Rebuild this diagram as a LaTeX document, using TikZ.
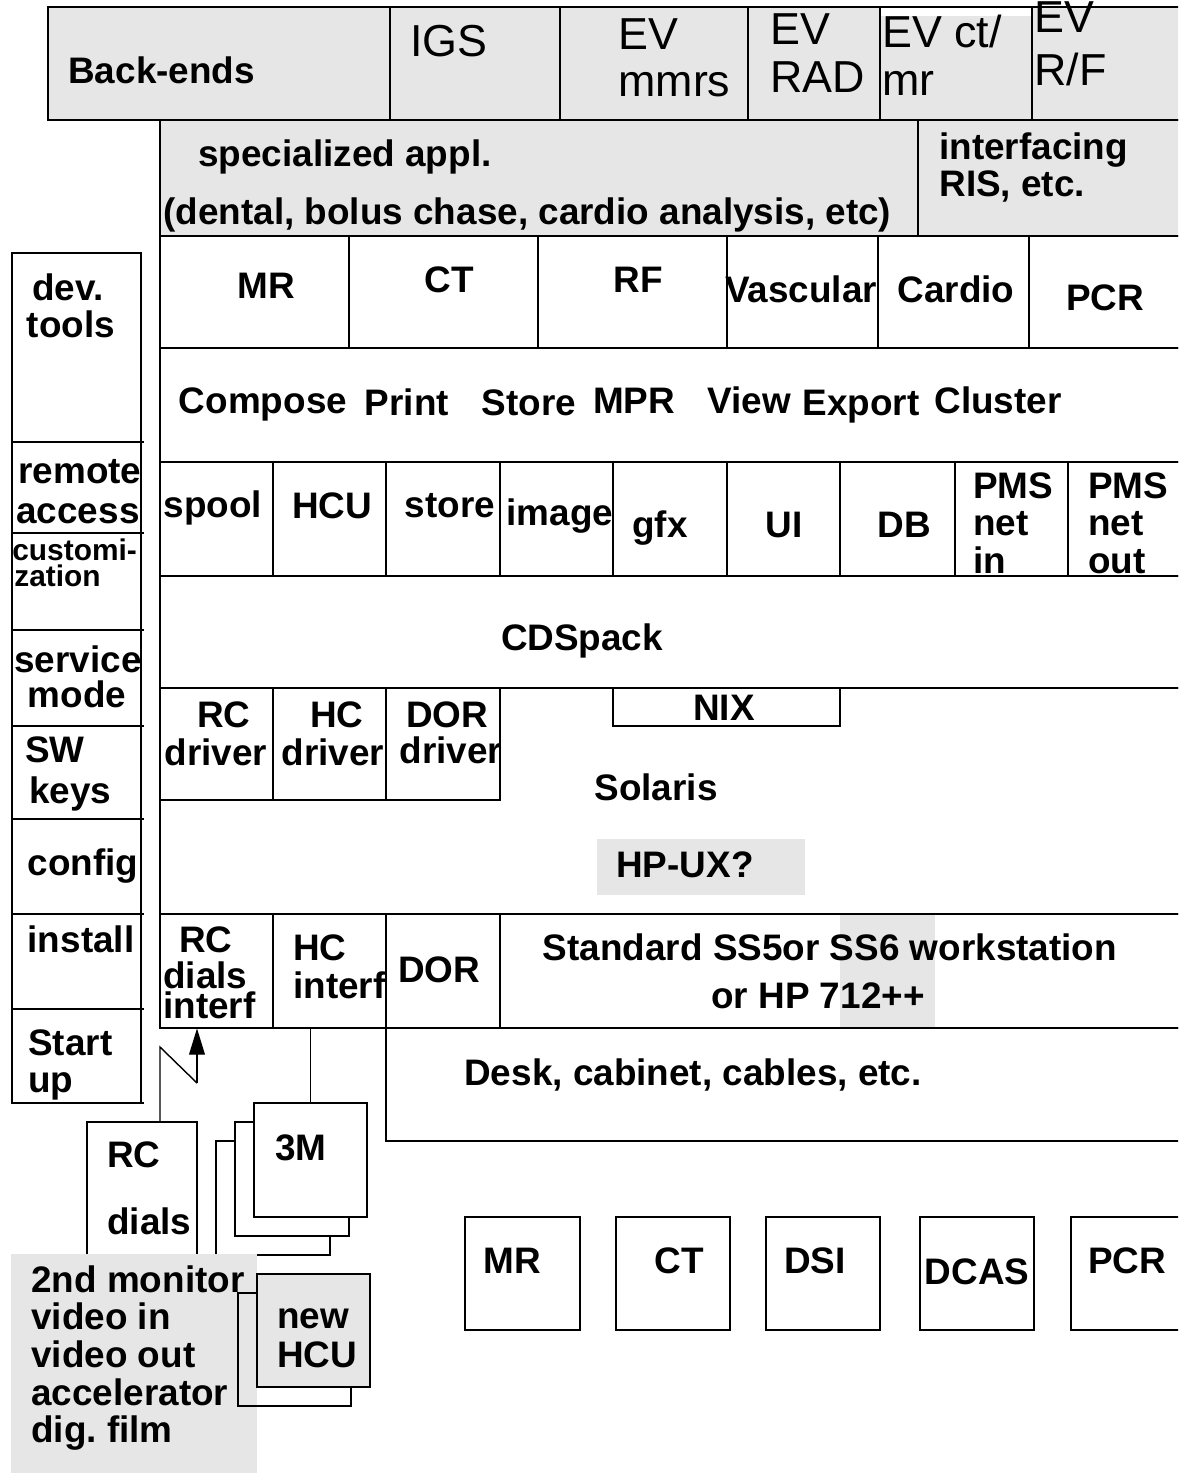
\documentclass[tikz,border=0pt]{standalone}
\usepackage{fontspec}
\setmainfont{Liberation Sans}
\usetikzlibrary{arrows.meta,fit}
\definecolor{panelgray}{RGB}{230,230,230}
\frenchspacing

\begin{document}
\begin{tikzpicture}[x=0.02cm, y=-0.02cm,
  every node/.style={inner sep=0pt},
  lay/.style={draw, line width=1.1pt},
  box/.style={draw, line width=1.1pt, inner sep=0pt},
  link/.style={line width=0.8pt},
  tx/.style={font=\bfseries\fontsize{21}{22}\selectfont, anchor=base},
  txl/.style={tx, anchor=base west},
  txs/.style={font=\bfseries\fontsize{17}{18}\selectfont, anchor=base west},
  ev/.style={font=\fontsize{25.5}{27}\selectfont, anchor=base west}]
\useasboundingbox (0,0) rectangle (1178,1473);
\clip (0,0) rectangle (1178,1473);
%
% --- Back-ends row ---
\draw[lay, fill=panelgray] (48,7) rectangle (1190,120);
\fill[white] (881,8.5) rectangle (1031,16);
\foreach \xx in {390,560,748,880,1032} \draw[lay] (\xx,7) -- (\xx,120);
\node[txl] (backends) at (68,84) {Back-ends};
\node[ev] (igs) at (410,57) {IGS};
\node[ev] (evmmrsa) at (618,50) {EV};
\node[ev] (evmmrsb) at (618,97) {mmrs};
\node[ev] (evrada) at (770,45) {EV};
\node[ev] (evradb) at (770,93) {RAD};
\node[ev] (evcta) at (882,48) {EV ct/};
\node[ev] (evctb) at (882,96) {mr};
\node[ev] (evrfa) at (1034,33) {EV};
\node[ev] (evrfb) at (1034,86) {R/F};
%
% --- Specialized applications ---
\draw[lay, fill=panelgray] (160,120) rectangle (1190,236);
\draw[lay] (918,120) -- (918,236);
\node[txl] (speca) at (198,167) {specialized appl.};
\node[txl] (specb) at (163,225) {(dental, bolus chase, cardio analysis, etc)};
\node[txl] (risa) at (939,160) {interfacing};
\node[txl] (risb) at (939,196) {RIS, etc.};
%
% --- Modalities ---
\draw[lay] (160,236) rectangle (1190,348);
\foreach \xx in {349,538,727,878,1029} \draw[lay] (\xx,236) -- (\xx,348);
\node[tx] (modmr) at (266,298) {MR};
\node[tx] (modct) at (449,292) {CT};
\node[tx] (modrf) at (638,292) {RF};
\node[tx] (modvasc) at (801,302) {Vascular};
\node[tx] (modcardio) at (956,302) {Cardio};
\node[tx] (modpcr) at (1105,310) {PCR};
%
% --- Functions ---
\draw[lay] (160,348) rectangle (1190,462);
\node[tx] (compose) at (263,413) {Compose};
\node[tx] (print) at (407,415) {Print};
\node[tx] (storefn) at (529,415) {Store};
\node[tx] (mpr) at (634,413) {MPR};
\node[tx] (view) at (749,413) {View};
\node[tx] (export) at (861,415) {Export};
\node[tx] (cluster) at (998,413) {Cluster};
%
% --- Services ---
\draw[lay] (160,462) rectangle (1190,576);
\foreach \xx in {273,386,500,613,727,840,955,1068} \draw[lay] (\xx,462) -- (\xx,576);
\node[tx] (spool) at (213,517) {spool};
\node[tx] (hcu) at (332,518) {HCU};
\node[tx] (storesv) at (450,517) {store};
\node[tx] (image) at (560,525) {image};
\node[tx] (gfx) at (660,537) {gfx};
\node[tx] (ui) at (784,537) {UI};
\node[tx] (db) at (904,537) {DB};
\node[txl] (pmsina) at (973,498) {PMS};
\node[txl] (pmsinb) at (973,535) {net};
\node[txl] (pmsinc) at (973,573) {in};
\node[txl] (pmsouta) at (1088,498) {PMS};
\node[txl] (pmsoutb) at (1088,535) {net};
\node[txl] (pmsoutc) at (1088,573) {out};
%
% --- CDSpack ---
\draw[lay] (160,576) rectangle (1190,688);
\node[tx] (cdspack) at (582,650) {CDSpack};
%
% --- Operating system and drivers ---
\draw[lay] (160,688) rectangle (1190,914);
\draw[lay] (160,688) rectangle (273,800);
\draw[lay] (273,688) rectangle (386,800);
\draw[lay] (386,688) rectangle (500,800);
\node[tx] (rcdrva) at (224,727) {RC};
\node[tx] (rcdrvb) at (216,765) {driver};
\node[tx] (hcdrva) at (337,727) {HC};
\node[tx] (hcdrvb) at (333,765) {driver};
\node[tx] (dordrva) at (447,727) {DOR};
\node[tx] (dordrvb) at (451,763) {driver};
\node[box, fit={(613,688) (840,726)}] (nixbox) {};
\node[tx] (nix) at (724,720) {NIX};
\node[tx] (solaris) at (656,800) {Solaris};
\node[fill=panelgray, fit={(597,839) (805,895)}] (hpuxbox) {};
\node[tx] (hpux) at (685,877) {HP-UX?};
%
% --- Hardware interfaces ---
\fill[panelgray] (840,914) rectangle (935,1028);
\draw[lay] (160,914) rectangle (1190,1028);
\foreach \xx in {273,386,500} \draw[lay] (\xx,914) -- (\xx,1028);
\node[fit={(160,914) (273,1028)}] (rcinterf) {};
\node[fit={(273,914) (386,1028)}] (hcinterf) {};
\node[tx] (rcifa) at (206,952) {RC};
\node[txl] (rcifb) at (163,988) {dials};
\node[txl] (rcifc) at (163,1018) {interf};
\node[txl] (hcifa) at (293,960) {HC};
\node[txl] (hcifb) at (293,998) {interf};
\node[tx] (dorif) at (439,982) {DOR};
\node[tx] (stda) at (830,960) {Standard SS5or SS6 workstation};
\node[tx] (stdb) at (818,1008) {or HP 712++};
%
% --- Desk ---
\draw[lay] (1190,1028) -- (386,1028) -- (386,1141) -- (1190,1141);
\node[txl] (desk) at (464,1085) {Desk, cabinet, cables, etc.};
%
% --- Left column ---
\draw[lay] (12,253) rectangle (141,1103);
\foreach \yy in {442,533,630,726,819,914,1009} \draw[lay] (12,\yy) -- (144,\yy);
\draw[lay] (141,1103) -- (144,1103);
\node[tx] (deva) at (68,300) {dev.};
\node[tx] (devb) at (71,337) {tools};
\node[tx] (remotea) at (80,483) {remote};
\node[tx] (remoteb) at (78,523) {access};
\node[txs] (custa) at (12,560) {customi-};
\node[txs] (custb) at (14,586) {zation};
\node[tx] (servicea) at (78,672) {service};
\node[tx] (serviceb) at (77,707) {mode};
\node[txl] (swa) at (25,762) {SW};
\node[txl] (swb) at (29,803) {keys};
\node[tx] (config) at (83,875) {config};
\node[tx] (install) at (81,952) {install};
\node[txl] (starta) at (28,1055) {Start};
\node[txl] (startb) at (28,1092) {up};
%
% --- Peripherals ---
\node[box, fit={(87,1122) (197,1255)}] (rcdials) {};
\node[txl] (rcda) at (107,1167) {RC};
\node[txl] (rcdb) at (107,1234) {dials};
\node[box, fill=white, fit={(216,1141) (330,1255)}] (mmmback) {};
\node[box, fill=white, fit={(235,1122) (349,1236)}] (mmmmid) {};
\node[box, fill=white, fit={(254,1103) (367,1217)}] (mmmfront) {};
\node[tx] (mmm) at (301,1160) {3M};
\node[fill=panelgray, fit={(11,1254) (257,1473)}] (extras) {};
\node[txl] (extraa) at (31,1292) {2nd monitor};
\node[txl] (extrab) at (31,1329) {video in};
\node[txl] (extrac) at (31,1367) {video out};
\node[txl] (extrad) at (31,1405) {accelerator};
\node[txl] (extrae) at (31,1442) {dig. film};
\node[box, fit={(238,1293) (351,1406)}] (newhcuback) {};
\node[box, fill=panelgray, fit={(257,1274) (370,1387)}] (newhcufront) {};
\node[txl] (newhcua) at (277,1328) {new};
\node[txl] (newhcub) at (277,1367) {HCU};
%
% --- Modality boxes ---
\node[box, fit={(465,1217) (580,1330)}] (bmrbox) {};
\node[box, fit={(616,1217) (730,1330)}] (bctbox) {};
\node[box, fit={(766,1217) (880,1330)}] (bdsibox) {};
\node[box, fit={(920,1217) (1034,1330)}] (bdcasbox) {};
\node[box, fit={(1071,1217) (1190,1330)}] (bpcrbox) {};
\node[tx] (bmr) at (512,1273) {MR};
\node[tx] (bct) at (679,1273) {CT};
\node[tx] (bdsi) at (815,1273) {DSI};
\node[tx] (bdcas) at (977,1284) {DCAS};
\node[tx] (bpcr) at (1127,1273) {PCR};
%
% --- Connections ---
\coordinate (zigtop) at (160,1047);
\coordinate (zigbot) at (197,1083);
\draw[link] (rcdials.north -| zigtop) -- (zigtop) -- (zigbot);
\draw[link, -{Triangle[length=15pt,width=9pt]}] (zigbot) -- (zigbot |- rcinterf.south);
\draw[lay] (mmmfront.north) -- (mmmfront.north |- hcinterf.south);
%
\end{tikzpicture}
\end{document}
